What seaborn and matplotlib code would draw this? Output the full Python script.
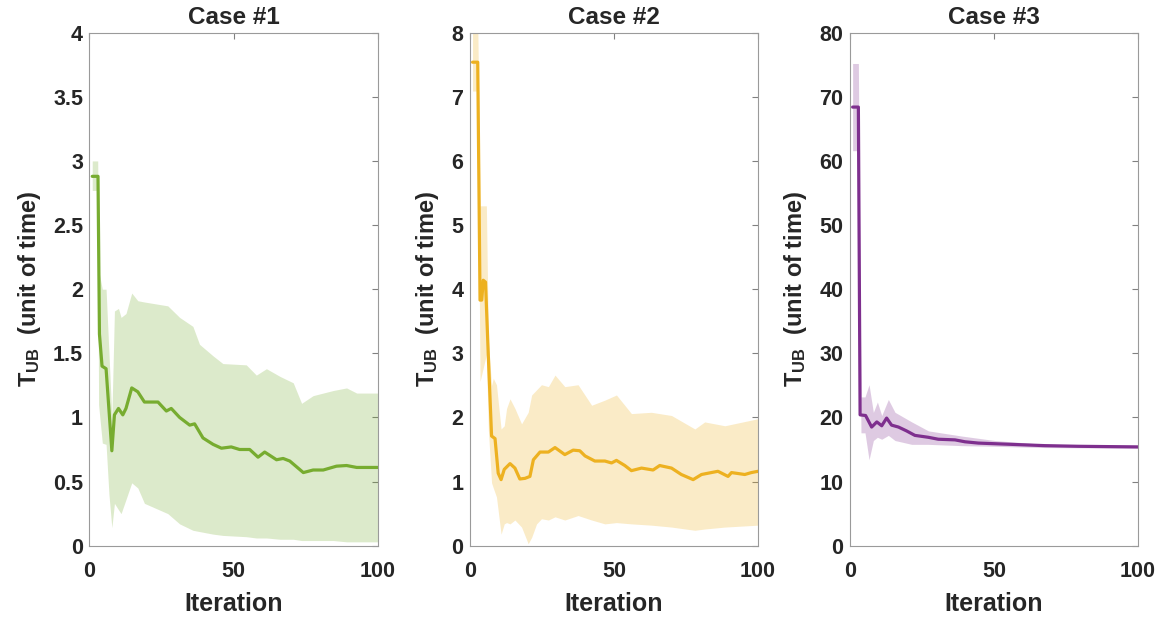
import numpy as np
import pandas as pd
import matplotlib
matplotlib.use("Agg")
import matplotlib.pyplot as plt
import matplotlib.ticker as mticker
import seaborn as sns

# ==============================================================
# DATI
# ==============================================================

titles = ["Case #1", "Case #2", "Case #3"]
colors = ["#77AC30", "#EDB120", "#7E2F8E"]
y_max = [4, 8, 80]
y_step = [0.5, 1, 10]

# Case #1 - media
it1 = [1, 3, 3.5, 4.4, 5.8, 7.8, 8.7, 10.1, 11.6, 12.7, 14.7, 16.8, 19.1, 23.8, 26.7,
       28.4, 31.3, 34.8, 36.5, 39.4, 42.9, 45.8, 49.2, 52.1, 55.6, 58.5, 60.8, 64.9,
       67.2, 69.5, 74.2, 77.6, 81.1, 85.7, 89.2, 92.7, 100]
mean1 = [2.88, 2.88, 1.65, 1.40, 1.38, 0.74, 1.02, 1.07, 1.02, 1.07, 1.23, 1.20, 1.12,
         1.12, 1.05, 1.07, 1.00, 0.94, 0.95, 0.84, 0.79, 0.76, 0.77, 0.75, 0.75, 0.69,
         0.73, 0.67, 0.68, 0.66, 0.57, 0.59, 0.59, 0.62, 0.625, 0.61, 0.61]
# Case #1 - banda
bit1 = [1, 2.9, 3.2, 4.5, 5.8, 6.8, 7.8, 8.7, 10.1, 11.0, 12.7, 14.7, 16.8, 19.1, 27.2,
        31.3, 35.9, 38.2, 42.9, 46.3, 54.4, 57.9, 61.4, 66.1, 70.7, 73.6, 77.6, 84.6,
        89.2, 92.7, 100]
up1 = [3.00, 3.00, 2.15, 2.00, 2.00, 1.50, 1.00, 1.83, 1.85, 1.78, 1.81, 1.97, 1.91,
       1.90, 1.87, 1.78, 1.71, 1.57, 1.48, 1.42, 1.41, 1.33, 1.38, 1.32, 1.27, 1.11,
       1.17, 1.21, 1.23, 1.19, 1.19]
lo1 = [2.77, 2.77, 1.10, 0.80, 0.79, 0.40, 0.14, 0.33, 0.28, 0.25, 0.36, 0.49, 0.45,
       0.33, 0.25, 0.17, 0.12, 0.11, 0.09, 0.08, 0.07, 0.06, 0.06, 0.05, 0.05, 0.04,
       0.04, 0.04, 0.03, 0.03, 0.03]

# Case #2 - media
it2 = [1, 2.8, 3.6, 4.2, 4.7, 5.5, 6.5, 7.6, 8.8, 9.9, 10.9, 12.0, 14.0, 15.7, 17.4,
       19.2, 20.9, 22.1, 24.4, 27.3, 29.6, 33.0, 35.9, 38.2, 40.0, 43.4, 46.9, 49.2,
       50.9, 53.8, 56.1, 59.6, 63.6, 65.9, 70.0, 73.4, 77.5, 80.4, 83.8, 86.1, 89.6,
       90.8, 95.4, 97.7, 100]
mean2 = [7.54, 7.54, 3.83, 3.83, 4.14, 4.11, 2.93, 1.71, 1.67, 1.13, 1.03, 1.19, 1.28,
         1.21, 1.04, 1.05, 1.08, 1.34, 1.46, 1.46, 1.53, 1.42, 1.49, 1.48, 1.40, 1.32,
         1.32, 1.29, 1.33, 1.25, 1.17, 1.21, 1.18, 1.25, 1.21, 1.11, 1.03, 1.11, 1.14,
         1.16, 1.08, 1.14, 1.11, 1.14, 1.16]
# Case #2 - banda
bit2 = [1, 2.8, 3.6, 5.8, 6.5, 7.6, 8.2, 9.3, 10.9, 12.0, 12.8, 14.0, 15.7, 18.0, 20.3,
        21.5, 23.2, 24.9, 27.3, 29.6, 33.0, 37.6, 42.3, 46.9, 50.9, 56.1, 63.0, 70.0,
        78.1, 81.5, 88.5, 100]
up2 = [8.2, 8.2, 5.30, 5.30, 3.20, 2.50, 2.61, 2.51, 1.82, 1.87, 2.14, 2.29, 2.14, 1.90,
       2.08, 2.35, 2.43, 2.51, 2.48, 2.66, 2.48, 2.51, 2.19, 2.27, 2.35, 2.06, 2.08,
       2.03, 1.82, 1.93, 1.87, 1.98]
lo2 = [7.09, 7.09, 2.56, 2.98, 1.80, 0.98, 0.90, 0.76, 0.18, 0.34, 0.36, 0.34, 0.40,
       0.29, 0.03, 0.13, 0.34, 0.42, 0.40, 0.45, 0.40, 0.47, 0.40, 0.34, 0.36, 0.34,
       0.32, 0.29, 0.24, 0.26, 0.29, 0.32]

# Case #3 - media
it3 = [1, 3.0, 3.6, 5.5, 7.6, 9.4, 11.1, 12.8, 14.5, 16.9, 19.7, 22.6, 27.3, 30.7,
       36.5, 40.0, 44.6, 50.3, 56.1, 61.9, 67.7, 79.2, 100]
mean3 = [68.4, 68.4, 20.4, 20.3, 18.5, 19.3, 18.7, 19.9, 18.8, 18.5, 17.9, 17.2, 16.9,
         16.6, 16.5, 16.2, 16.0, 15.9, 15.8, 15.7, 15.6, 15.5, 15.4]
# Case #3 - banda
bit3 = [1, 3.0, 3.9, 5.3, 6.7, 8.2, 9.6, 11.1, 13.4, 15.7, 21.5, 27.3, 38.8, 50.3, 67.7, 100]
up3 = [75.2, 75.2, 23.2, 23.2, 25.1, 20.8, 22.4, 20.3, 22.8, 20.8, 19.3, 17.9, 17.1,
       16.4, 15.8, 15.7]
lo3 = [61.6, 61.6, 17.6, 17.6, 13.4, 16.4, 16.9, 16.6, 17.2, 16.4, 15.8, 15.8, 15.6,
       15.5, 15.3, 15.2]

medie = [(it1, mean1), (it2, mean2), (it3, mean3)]
bande = [(bit1, lo1, up1), (bit2, lo2, up2), (bit3, lo3, up3)]

# ==============================================================
# STILE
# ==============================================================

sns.set_style("white")
plt.rcParams["font.family"] = ["Liberation Sans", "DejaVu Sans"]
plt.rcParams["font.weight"] = "bold"
plt.rcParams["mathtext.fontset"] = "custom"
plt.rcParams["mathtext.rm"] = "Liberation Sans:bold"
plt.rcParams["mathtext.bf"] = "Liberation Sans:bold"

fig = plt.figure(figsize=(11.68, 6.17), dpi=100)
lefts = [0.0765, 0.4021, 0.7275]

for k in range(3):
    ax = fig.add_axes([lefts[k], 0.1156, 0.2469, 0.8314])
    bx, blo, bup = bande[k]
    ax.fill_between(bx, blo, bup, color=colors[k], alpha=0.25, linewidth=0)

    df = pd.DataFrame({"iter": medie[k][0], "val": medie[k][1]})
    sns.lineplot(data=df, x="iter", y="val", ax=ax, color=colors[k], linewidth=2.3)

    ax.set_xlim(0, 100)
    ax.set_ylim(0, y_max[k])
    ax.set_xticks([0, 50, 100])
    ax.set_yticks(np.arange(0, y_max[k] + y_step[k] / 2, y_step[k]))
    ax.yaxis.set_major_formatter(mticker.FormatStrFormatter("%g"))
    ax.tick_params(direction="in", length=4, width=0.8, color="#808080",
                   top=True, right=True, labelsize=15.5, labelcolor="#262626")
    ax.tick_params(axis="x", pad=11)
    ax.tick_params(axis="y", pad=4.5)
    for lab in ax.get_xticklabels() + ax.get_yticklabels():
        lab.set_fontweight("bold")
    for sp in ax.spines.values():
        sp.set_color("#9a9a9a")
        sp.set_linewidth(0.8)

    ax.set_title(titles[k], fontsize=17.5, fontweight="bold", pad=6)
    ax.set_xlabel("Iteration", fontsize=18, fontweight="bold", color="#262626", labelpad=7)
    ax.set_ylabel(r"$\mathbf{T_{UB}}$  (unit of time)", fontsize=17, fontweight="bold",
                  color="#262626", labelpad=7.5)

plt.savefig("out.png", dpi=100)
